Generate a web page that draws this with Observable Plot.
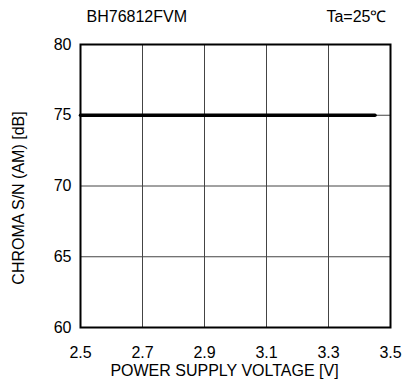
<!DOCTYPE html>
<html><head><meta charset="utf-8">
<script src="https://cdn.jsdelivr.net/npm/d3@7"></script>
<script src="https://cdn.jsdelivr.net/npm/@observablehq/plot@0.6"></script>
<style>body{margin:0;background:#fff}</style>
</head><body><div id="chart"></div>
<script>
const voltage = [2.5, 3.45];
const snr = [75, 75];
const xTicks = [2.5, 2.7, 2.9, 3.1, 3.3, 3.5];
const yTicks = [60, 65, 70, 75, 80];
const title = "BH76812FVM";
const condition = "Ta=25℃";
const xLabel = "POWER SUPPLY VOLTAGE [V]";
const yLabel = "CHROMA S/N (AM) [dB]";

const data = voltage.map((v, i) => ({v, s: snr[i]}));

const chart = Plot.plot({
  width: 404, height: 383,
  marginLeft: 80, marginRight: 14, marginTop: 44, marginBottom: 56,
  style: {fontFamily: "'Liberation Sans', Arial, sans-serif", fontSize: "16px", background: "white", color: "black"},
  x: {domain: [2.5, 3.5], label: null},
  y: {domain: [60, 80], label: null},
  marks: [
    Plot.gridX(xTicks, {stroke: "#444", strokeOpacity: 1, strokeWidth: 1}),
    Plot.gridY(yTicks, {stroke: "#444", strokeOpacity: 1, strokeWidth: 1}),
    Plot.axisX({ticks: xTicks, tickSize: 0, tickPadding: 19, tickFormat: d3.format(".1f"), label: null, fontSize: 16}),
    Plot.axisY({ticks: yTicks, tickSize: 0, tickPadding: 9, label: null, fontSize: 16}),
    Plot.line(data, {x: "v", y: "s", stroke: "black", strokeWidth: 3.5}),
    Plot.frame({stroke: "black", strokeWidth: 2}),
    Plot.text([xLabel], {frameAnchor: "bottom", textAnchor: "middle", dx: -11, dy: 43, fontSize: 16, lineAnchor: "middle"}),
    Plot.text([yLabel], {frameAnchor: "left", textAnchor: "middle", lineAnchor: "middle", dx: -62, dy: 12, rotate: -90, fontSize: 16}),
    Plot.text([title], {frameAnchor: "top-left", textAnchor: "start", dx: 6, dy: -28, fontSize: 16, lineAnchor: "middle"}),
    Plot.text([condition], {frameAnchor: "top-right", textAnchor: "end", dx: -4, dy: -28, fontSize: 16, lineAnchor: "middle"})
  ]
});
document.getElementById("chart").append(chart);
</script></body></html>
